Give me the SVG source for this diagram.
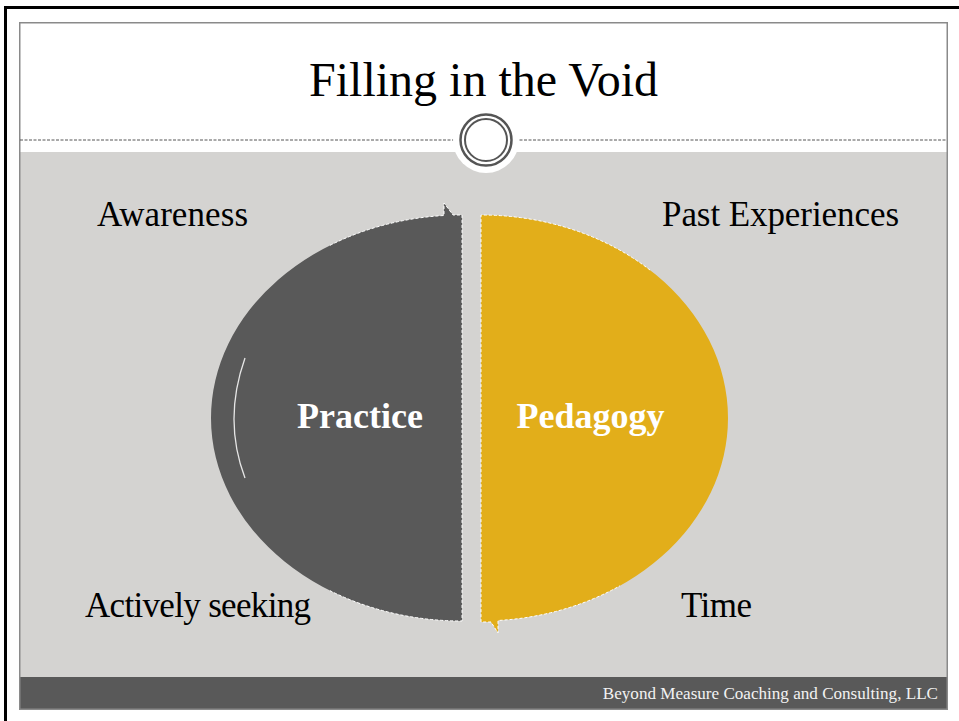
<svg xmlns="http://www.w3.org/2000/svg" width="959" height="721" viewBox="0 0 959 721">
  <style>
    .serif { font-family: "Liberation Serif", "DejaVu Serif", serif; }
    .label { font-size: 35px; fill: #000; }
    .node-text { font-size: 36px; font-weight: bold; fill: #fff; }
    .shape-outline { fill: none; stroke: #fff; stroke-width: 1; stroke-dasharray: 3 2; }
  </style>
  <rect x="0" y="0" width="959" height="721" fill="#ffffff"/>
  <!-- outer black frame -->
  <g id="frame">
    <rect x="4" y="6" width="955" height="3" fill="#000"/>
    <rect x="4" y="6" width="3" height="715" fill="#000"/>
  </g>
  <!-- slide -->
  <g id="slide">
    <rect x="20" y="22" width="927" height="130" fill="#ffffff"/>
    <rect x="20" y="152" width="927" height="526" fill="#d4d3d1"/>
    <rect x="20" y="677" width="927" height="32" fill="#595959"/>
    <rect x="19.75" y="22.75" width="927.5" height="686.5" fill="none" stroke="#8a8a8a" stroke-width="1.5"/>
    <line x1="20" y1="140" x2="947" y2="140" stroke="#555555" stroke-width="1" stroke-dasharray="3 1.5"/>
    <circle cx="486" cy="140" r="33" fill="#ffffff"/>
    <circle cx="486" cy="140" r="25.5" fill="#ffffff" stroke="#555555" stroke-width="2.5"/>
    <circle cx="486" cy="140" r="21" fill="none" stroke="#555555" stroke-width="2"/>
    <text class="serif" x="483.5" y="96" font-size="48" text-anchor="middle" fill="#000">Filling in the Void</text>
    <text class="serif" x="938" y="699" font-size="17.1" text-anchor="end" fill="#f2f2f2">Beyond Measure Coaching and Consulting, LLC</text>
  </g>
  <!-- nodes -->
  <g id="practice">
    <path fill="#595959" d="M 462 215 L 462 621 A 251 203 0 0 1 211 418 A 251 203 0 0 1 444 215.5 L 444 203 L 453 215 Z"/>
    <path class="shape-outline" d="M 330 245.3 A 251 203 0 0 1 444 215.5 L 444 203 L 453 215 L 462 215 L 462 621 A 251 203 0 0 1 330 590.7"/>
    <path d="M 245 358 Q 223 420 245 478" fill="none" stroke="#ffffff" stroke-width="1.3" stroke-opacity="0.85"/>
    <text class="serif node-text" x="360" y="428" text-anchor="middle">Practice</text>
  </g>
  <g id="pedagogy">
    <path fill="#e2ae1a" d="M 481 215 A 247 203 0 0 1 728 418 A 247 203 0 0 1 498 620.5 L 498 633 L 491 622 L 481 622 Z"/>
    <path class="shape-outline" d="M 650 270 A 247 203 0 0 0 481 215 L 481 622 L 491 622 L 498 633 L 498 620.5 A 247 203 0 0 0 620 585.8"/>
    <text class="serif node-text" x="590.5" y="428" text-anchor="middle">Pedagogy</text>
  </g>
  <!-- labels -->
  <g id="labels">
    <text class="serif label" x="97" y="226" textLength="151">Awareness</text>
    <text class="serif label" x="662" y="226" textLength="237">Past Experiences</text>
    <text class="serif label" x="85" y="617" textLength="226">Actively seeking</text>
    <text class="serif label" x="681" y="617" textLength="71">Time</text>
  </g>
</svg>
